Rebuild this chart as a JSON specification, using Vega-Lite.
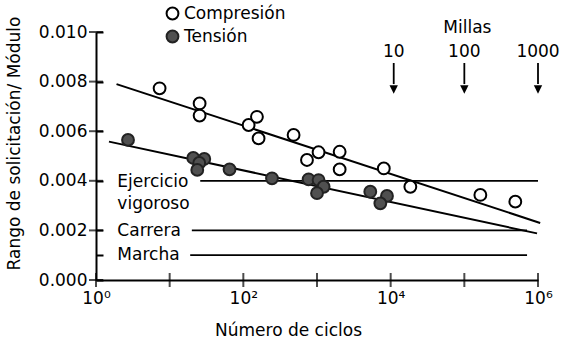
{
  "$schema": "https://vega.github.io/schema/vega-lite/v6.json",
  "width": 442,
  "height": 248,
  "autosize": {"type": "none"},
  "padding": {"left": 96, "top": 32, "right": 23, "bottom": 64},
  "background": "white",
  "config": {
    "view": {"stroke": null},
    "font": "DejaVu Sans",
    "axis": {"grid": false, "ticks": false, "domainColor": "black", "domainWidth": 2, "labelColor": "black", "titleColor": "black", "labelFont": "DejaVu Sans", "titleFont": "DejaVu Sans", "labelFontSize": 17, "titleFontSize": 17, "titleFontWeight": "normal"},
    "legend": {"labelFont": "DejaVu Sans", "labelFontSize": 17, "labelColor": "black"}
  },
  "datasets": {
    "puntos": [
      {"ciclos": 7.3, "rango": 0.00773, "serie": "Compresión"},
      {"ciclos": 25.5, "rango": 0.00712, "serie": "Compresión"},
      {"ciclos": 25.5, "rango": 0.00663, "serie": "Compresión"},
      {"ciclos": 118, "rango": 0.00625, "serie": "Compresión"},
      {"ciclos": 153, "rango": 0.00658, "serie": "Compresión"},
      {"ciclos": 161, "rango": 0.00571, "serie": "Compresión"},
      {"ciclos": 481, "rango": 0.00585, "serie": "Compresión"},
      {"ciclos": 731, "rango": 0.00484, "serie": "Compresión"},
      {"ciclos": 1050, "rango": 0.00515, "serie": "Compresión"},
      {"ciclos": 2030, "rango": 0.00517, "serie": "Compresión"},
      {"ciclos": 2030, "rango": 0.00446, "serie": "Compresión"},
      {"ciclos": 8070, "rango": 0.0045, "serie": "Compresión"},
      {"ciclos": 18500, "rango": 0.00376, "serie": "Compresión"},
      {"ciclos": 165000, "rango": 0.00343, "serie": "Compresión"},
      {"ciclos": 492000, "rango": 0.00316, "serie": "Compresión"},
      {"ciclos": 2.72, "rango": 0.00565, "serie": "Tensión"},
      {"ciclos": 20.9, "rango": 0.00492, "serie": "Tensión"},
      {"ciclos": 29.5, "rango": 0.00488, "serie": "Tensión"},
      {"ciclos": 25.2, "rango": 0.00472, "serie": "Tensión"},
      {"ciclos": 23.7, "rango": 0.00444, "serie": "Tensión"},
      {"ciclos": 65, "rango": 0.00446, "serie": "Tensión"},
      {"ciclos": 245, "rango": 0.0041, "serie": "Tensión"},
      {"ciclos": 769, "rango": 0.00406, "serie": "Tensión"},
      {"ciclos": 1050, "rango": 0.00403, "serie": "Tensión"},
      {"ciclos": 1230, "rango": 0.00376, "serie": "Tensión"},
      {"ciclos": 1000, "rango": 0.0035, "serie": "Tensión"},
      {"ciclos": 5290, "rango": 0.00356, "serie": "Tensión"},
      {"ciclos": 8910, "rango": 0.00339, "serie": "Tensión"},
      {"ciclos": 7240, "rango": 0.00309, "serie": "Tensión"}
    ],
    "ajuste": [
      {"ciclos": 1.9, "rango": 0.0079, "serie": "Compresión"},
      {"ciclos": 1070000, "rango": 0.0023, "serie": "Compresión"},
      {"ciclos": 1.5, "rango": 0.00558, "serie": "Tensión"},
      {"ciclos": 970000, "rango": 0.00188, "serie": "Tensión"}
    ],
    "actividades": [
      {"actividad": "Ejercicio vigoroso", "ciclos": 26, "rango": 0.004},
      {"actividad": "Ejercicio vigoroso", "ciclos": 1000000, "rango": 0.004},
      {"actividad": "Carrera", "ciclos": 20, "rango": 0.002},
      {"actividad": "Carrera", "ciclos": 710000, "rango": 0.002},
      {"actividad": "Marcha", "ciclos": 19, "rango": 0.001},
      {"actividad": "Marcha", "ciclos": 710000, "rango": 0.001}
    ],
    "rotulos": [
      {"texto": "Ejercicio", "ciclos": 1.95, "rango": 0.00375},
      {"texto": "vigoroso", "ciclos": 1.95, "rango": 0.00285},
      {"texto": "Carrera", "ciclos": 1.95, "rango": 0.00177},
      {"texto": "Marcha", "ciclos": 1.95, "rango": 0.00081}
    ],
    "millas": [
      {"texto": "Millas", "ciclos": 110000, "rango": 0.00995},
      {"texto": "10", "ciclos": 11000, "rango": 0.009},
      {"texto": "100", "ciclos": 100000, "rango": 0.009},
      {"texto": "1000", "ciclos": 1000000, "rango": 0.009}
    ],
    "flechas": [
      {"millas": 10, "ciclos": 11000},
      {"millas": 100, "ciclos": 100000},
      {"millas": 1000, "ciclos": 1000000}
    ],
    "marcasY": [
      {"v": 0}, {"v": 0.002}, {"v": 0.004}, {"v": 0.006}, {"v": 0.008}, {"v": 0.01}
    ],
    "marcasX": [
      {"v": 1}, {"v": 10}, {"v": 100}, {"v": 1000}, {"v": 10000}, {"v": 100000}, {"v": 1000000}
    ]
  },
  "layer": [
    {
      "data": {"name": "actividades"},
      "mark": {"type": "line", "color": "black", "strokeWidth": 1.8},
      "encoding": {
        "x": {"field": "ciclos", "type": "quantitative", "scale": {"type": "log", "domain": [1, 1000000], "nice": false},
          "axis": {"values": [1, 100, 10000, 1000000], "labelExpr": "datum.value == 1 ? '10⁰' : datum.value == 100 ? '10²' : datum.value == 10000 ? '10⁴' : '10⁶'", "labelPadding": 10, "labelFlush": false, "title": "Número de ciclos", "titleX": 192, "titleY": 55, "titleBaseline": "alphabetic"}},
        "y": {"field": "rango", "type": "quantitative", "scale": {"domain": [0, 0.01], "nice": false, "zero": false},
          "axis": {"values": [0, 0.001, 0.002, 0.004, 0.006, 0.008, 0.01], "labelExpr": "datum.value == 0.001 ? '' : format(datum.value, '.3f')", "ticks": true, "tickSize": -7, "tickWidth": 2, "tickColor": "black", "labelPadding": 16, "title": "Rango de solicitación/ Módulo", "titleX": -77, "titleY": 111, "titleBaseline": "alphabetic", "titleAnchor": "middle", "titleAlign": "center"}},
        "detail": {"field": "actividad"}
      }
    },
    {
      "data": {"name": "ajuste"},
      "mark": {"type": "line", "color": "black", "strokeWidth": 2},
      "encoding": {
        "x": {"field": "ciclos", "type": "quantitative"},
        "y": {"field": "rango", "type": "quantitative"},
        "detail": {"field": "serie"}
      }
    },
    {
      "data": {"name": "marcasY"},
      "mark": {"type": "tick", "orient": "horizontal", "color": "black", "size": 14, "thickness": 2},
      "encoding": {
        "x": {"datum": 1, "type": "quantitative"},
        "y": {"field": "v", "type": "quantitative"}
      }
    },
    {
      "data": {"name": "marcasX"},
      "mark": {"type": "tick", "orient": "vertical", "color": "black", "size": 14, "thickness": 2},
      "encoding": {
        "x": {"field": "v", "type": "quantitative"},
        "y": {"datum": 0, "type": "quantitative"}
      }
    },
    {
      "data": {"name": "flechas"},
      "mark": {"type": "rule", "color": "black", "strokeWidth": 1.8},
      "encoding": {
        "x": {"field": "ciclos", "type": "quantitative"},
        "y": {"datum": 0.00875, "type": "quantitative"},
        "y2": {"datum": 0.0079}
      }
    },
    {
      "data": {"name": "flechas"},
      "mark": {"type": "point", "shape": "M-1,-1L1,-1L0,1Z", "filled": true, "color": "black", "size": 70, "opacity": 1},
      "encoding": {
        "x": {"field": "ciclos", "type": "quantitative"},
        "y": {"datum": 0.00768, "type": "quantitative"}
      }
    },
    {
      "data": {"name": "rotulos"},
      "mark": {"type": "text", "align": "left", "baseline": "alphabetic", "fontSize": 17, "font": "DejaVu Sans", "color": "black"},
      "encoding": {
        "x": {"field": "ciclos", "type": "quantitative"},
        "y": {"field": "rango", "type": "quantitative"},
        "text": {"field": "texto"}
      }
    },
    {
      "data": {"name": "millas"},
      "mark": {"type": "text", "align": "center", "baseline": "alphabetic", "fontSize": 17, "font": "DejaVu Sans", "color": "black"},
      "encoding": {
        "x": {"field": "ciclos", "type": "quantitative"},
        "y": {"field": "rango", "type": "quantitative"},
        "text": {"field": "texto"}
      }
    },
    {
      "data": {"name": "puntos"},
      "mark": {"type": "point", "shape": "circle", "filled": false, "size": 140, "strokeWidth": 2, "opacity": 1},
      "encoding": {
        "x": {"field": "ciclos", "type": "quantitative"},
        "y": {"field": "rango", "type": "quantitative"},
        "fill": {"field": "serie", "type": "nominal", "scale": {"domain": ["Compresión", "Tensión"], "range": ["white", "#505050"]},
          "legend": {"orient": "none", "legendX": 68, "legendY": -27, "title": null, "padding": 0, "rowPadding": 2, "labelOffset": 3, "symbolSize": 140, "symbolStrokeWidth": 2, "symbolStrokeColor": "black", "labelFontSize": 17}},
        "stroke": {"field": "serie", "type": "nominal", "scale": {"domain": ["Compresión", "Tensión"], "range": ["black", "#222222"]}, "legend": null}
      }
    }
  ]
}
